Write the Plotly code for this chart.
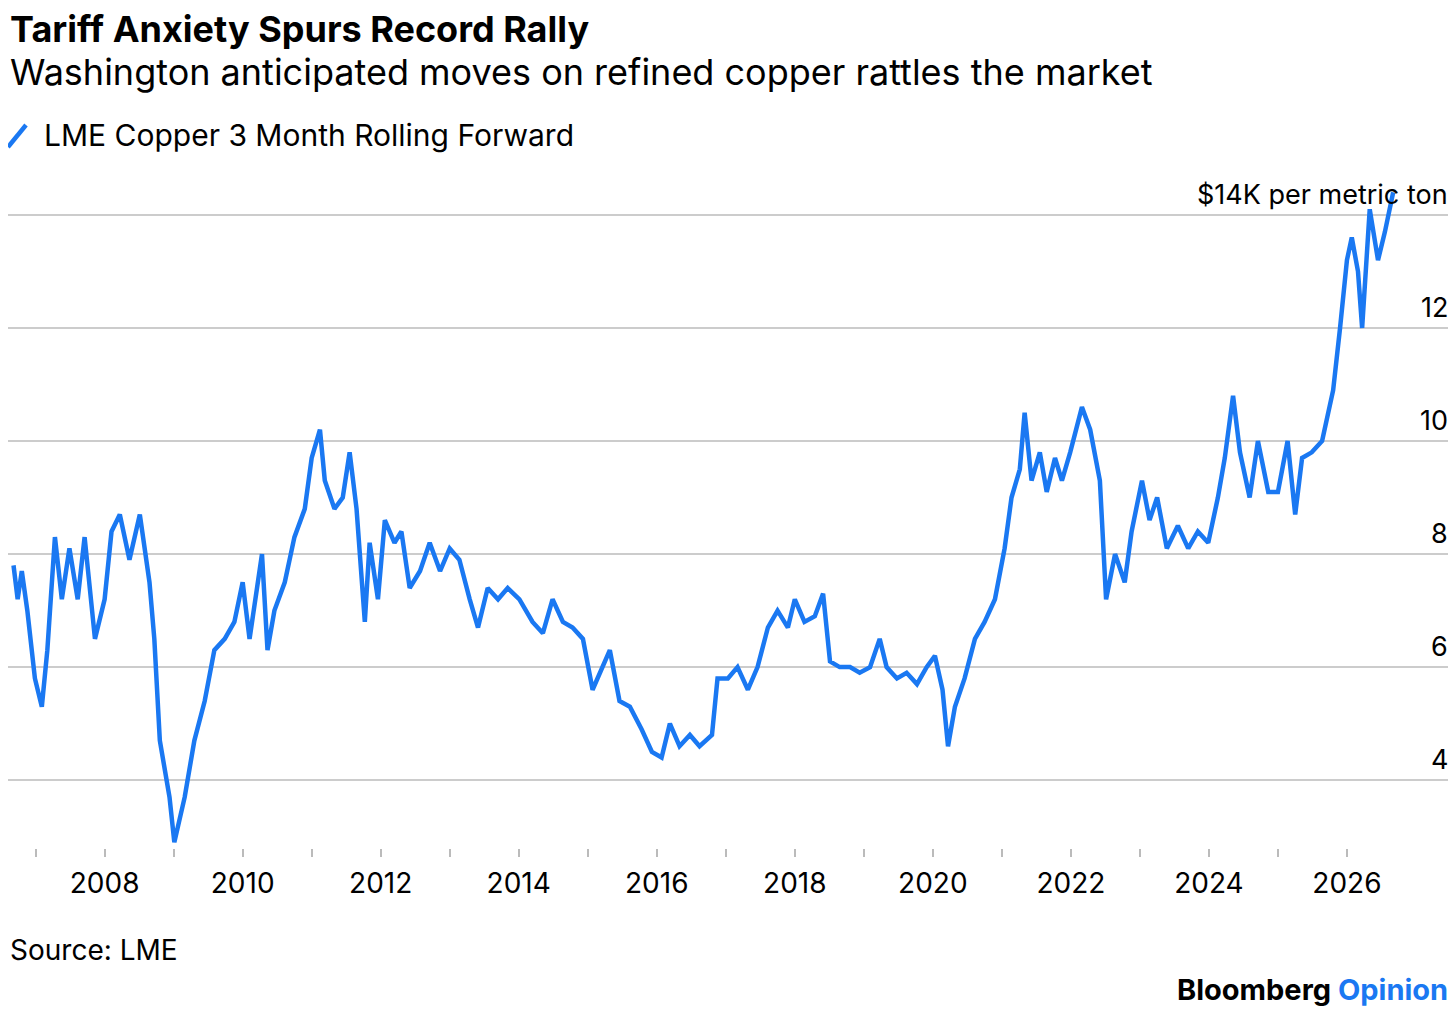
import plotly.graph_objects as go

years = [2006.68, 2006.74, 2006.80, 2006.88, 2006.99, 2007.09, 2007.17, 2007.28, 2007.38, 2007.49,
         2007.61, 2007.71, 2007.86, 2008.00, 2008.10, 2008.22, 2008.36, 2008.51, 2008.65, 2008.72,
         2008.80, 2008.94, 2009.01, 2009.16, 2009.30, 2009.45, 2009.59, 2009.74, 2009.88, 2010.00,
         2010.10, 2010.28, 2010.36, 2010.46, 2010.61, 2010.75, 2010.90, 2011.00, 2011.12, 2011.19,
         2011.33, 2011.45, 2011.55, 2011.65, 2011.77, 2011.84, 2011.96, 2012.06, 2012.20, 2012.30,
         2012.42, 2012.57, 2012.71, 2012.86, 2013.00, 2013.14, 2013.29, 2013.41, 2013.55, 2013.70,
         2013.84, 2014.01, 2014.20, 2014.35, 2014.49, 2014.64, 2014.78, 2014.93, 2015.07, 2015.22,
         2015.32, 2015.46, 2015.61, 2015.78, 2015.93, 2016.07, 2016.19, 2016.33, 2016.48, 2016.62,
         2016.80, 2016.88, 2017.03, 2017.17, 2017.32, 2017.46, 2017.61, 2017.75, 2017.90, 2018.00,
         2018.14, 2018.29, 2018.41, 2018.51, 2018.65, 2018.80, 2018.94, 2019.09, 2019.23, 2019.33,
         2019.48, 2019.62, 2019.77, 2019.91, 2020.03, 2020.14, 2020.22, 2020.32, 2020.46, 2020.61,
         2020.75, 2020.90, 2021.04, 2021.14, 2021.26, 2021.33, 2021.43, 2021.55, 2021.65, 2021.77,
         2021.87, 2021.99, 2022.16, 2022.28, 2022.42, 2022.51, 2022.64, 2022.78, 2022.88, 2023.03,
         2023.14, 2023.25, 2023.39, 2023.55, 2023.70, 2023.84, 2023.99, 2024.13, 2024.23, 2024.35,
         2024.45, 2024.59, 2024.71, 2024.86, 2025.00, 2025.14, 2025.25, 2025.35, 2025.49, 2025.64,
         2025.80, 2025.90, 2026.00, 2026.07, 2026.16, 2026.22, 2026.33, 2026.45, 2026.55, 2026.67]
copper = [7.8, 7.2, 7.7, 7.0, 5.8, 5.3, 6.3, 8.3, 7.2, 8.1,
          7.2, 8.3, 6.5, 7.2, 8.4, 8.7, 7.9, 8.7, 7.5, 6.5,
          4.7, 3.7, 2.9, 3.7, 4.7, 5.4, 6.3, 6.5, 6.8, 7.5,
          6.5, 8.0, 6.3, 7.0, 7.5, 8.3, 8.8, 9.7, 10.2, 9.3,
          8.8, 9.0, 9.8, 8.8, 6.8, 8.2, 7.2, 8.6, 8.2, 8.4,
          7.4, 7.7, 8.2, 7.7, 8.1, 7.9, 7.2, 6.7, 7.4, 7.2,
          7.4, 7.2, 6.8, 6.6, 7.2, 6.8, 6.7, 6.5, 5.6, 6.0,
          6.3, 5.4, 5.3, 4.9, 4.5, 4.4, 5.0, 4.6, 4.8, 4.6,
          4.8, 5.8, 5.8, 6.0, 5.6, 6.0, 6.7, 7.0, 6.7, 7.2,
          6.8, 6.9, 7.3, 6.1, 6.0, 6.0, 5.9, 6.0, 6.5, 6.0,
          5.8, 5.9, 5.7, 6.0, 6.2, 5.6, 4.6, 5.3, 5.8, 6.5,
          6.8, 7.2, 8.1, 9.0, 9.5, 10.5, 9.3, 9.8, 9.1, 9.7,
          9.3, 9.8, 10.6, 10.2, 9.3, 7.2, 8.0, 7.5, 8.4, 9.3,
          8.6, 9.0, 8.1, 8.5, 8.1, 8.4, 8.2, 9.0, 9.7, 10.8,
          9.8, 9.0, 10.0, 9.1, 9.1, 10.0, 8.7, 9.7, 9.8, 10.0,
          10.9, 12.0, 13.2, 13.6, 13.0, 12.0, 14.1, 13.2, 13.7, 14.4]

x_ticks = list(range(2007, 2027))
x_labels = [str(y) if y % 2 == 0 else "" for y in x_ticks]
y_ticks = [4, 6, 8, 10, 12, 14]
y_labels = ["4", "6", "8", "10", "12", "$14K per metric ton"]

blue = "#1a78f2"
font = "Inter, Roboto, sans-serif"

W, H = 1448, 1003
T, B = 173, 163
PH = H - T - B

fig = go.Figure()
fig.add_trace(go.Scatter(x=years, y=copper, mode="lines",
                         line=dict(color=blue, width=4.5), hoverinfo="skip"))

for v, t in zip(y_ticks, y_labels):
    fig.add_annotation(x=1, xref="paper", y=v, yref="y", text=t, showarrow=False,
                       xanchor="right", yanchor="bottom", yshift=2, xshift=-6,
                       font=dict(size=27, color="#000", family=font))


def py(ref_y):
    # reference pixel row -> paper fraction
    return (848 - ref_y) / PH


texts = [
    (29, "<b>Tariff Anxiety Spurs Record Rally</b>", 36, 0, "left"),
    (72, "Washington anticipated moves on refined copper rattles the market", 36, 0, "left"),
    (135, "LME Copper 3 Month Rolling Forward", 30, 34 / W, "left"),
    (950, "Source: LME", 28, 0, "left"),
    (990, "<b>Bloomberg <span style='color:%s'>Opinion</span></b>" % blue, 29, 1, "right"),
]
for y0, t, s, px, anc in texts:
    fig.add_annotation(x=px, xref="paper", y=py(y0), yref="paper",
                       text=t, showarrow=False, xanchor=anc, yanchor="middle",
                       xshift=-6 if anc == "right" else 0,
                       font=dict(size=s, color="#000", family=font))

fig.add_shape(type="line", xref="paper", yref="paper",
              x0=0 / W, x1=18 / W, y0=py(147), y1=py(125),
              line=dict(color=blue, width=4.5))

fig.update_layout(
    width=W, height=H,
    margin=dict(l=0, r=0, t=T, b=B),
    paper_bgcolor="white", plot_bgcolor="white",
    showlegend=False,
    font=dict(family=font, color="#000"),
    xaxis=dict(range=[2006.60, 2027.58], tickvals=x_ticks, ticktext=x_labels,
               ticks="outside", ticklen=8, tickcolor="#bbb", tickwidth=1.5,
               showgrid=False, zeroline=False, showline=False,
               tickfont=dict(size=28, family=font), ticklabelstandoff=2),
    yaxis=dict(range=[2.8, 14.6], tickvals=y_ticks, showticklabels=False,
               gridcolor="#cccccc", gridwidth=1.5, zeroline=False, showline=False),
)

fig.write_html("out.html")
